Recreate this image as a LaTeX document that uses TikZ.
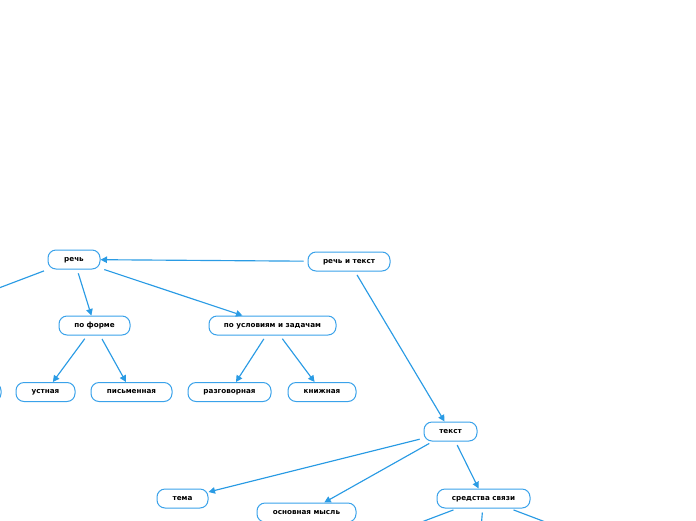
\documentclass[tikz,border=0pt]{standalone}
\usepackage{fontspec}
\setmainfont{DejaVu Sans}
\usetikzlibrary{arrows.meta}
\definecolor{edgeblue}{HTML}{2A9BE4}
\definecolor{boxblue}{HTML}{3AA2EA}
\tikzset{
  topic/.style={draw=boxblue, line width=1pt, rounded corners=8pt, fill=white,
    minimum height=19pt, inner sep=0pt, text height=5.2pt, text depth=1.4pt,
    font=\fontsize{7.2}{8}\selectfont\bfseries, text=black},
  link/.style={draw=edgeblue, line width=1.15pt, shorten <=4pt,
    -{Triangle[length=6.5pt,width=6.5pt]}},
  plain/.style={draw=edgeblue, line width=1.15pt, shorten <=4pt}
}
\begin{document}
\begin{tikzpicture}[x=1pt,y=-1pt]
\useasboundingbox (0,0) rectangle (696,520);
\clip (0,0) rectangle (696,520);
\node[topic, minimum width=52pt] (rech) at (74,259.5) {речь};
\node[topic, minimum width=82pt] (rt) at (349,261.5) {речь и текст};
\node[topic, minimum width=71pt] (forma) at (94.5,325.5) {по форме};
\node[topic, minimum width=127pt] (usl) at (272.5,325.5) {по условиям и задачам};
\node[topic, minimum width=59pt] (ust) at (45.5,392) {устная};
\node[topic, minimum width=81pt] (pis) at (131.5,392) {письменная};
\node[topic, minimum width=83pt] (razg) at (229.5,392) {разговорная};
\node[topic, minimum width=68pt] (kn) at (322,392) {книжная};
\node[topic, minimum width=60pt] (hid) at (-29,392) {};
\node[topic, minimum width=53pt] (tekst) at (450.5,431.5) {текст};
\node[topic, minimum width=51pt] (tema) at (182.5,498.5) {тема};
\node[topic, minimum width=99pt] (mysl) at (306.5,512.5) {основная мысль};
\node[topic, minimum width=93pt] (sredstva) at (483.5,498.5) {средства связи};
\coordinate (offL) at (-100,325.5);
\coordinate (s1) at (309.5,564.5);
\coordinate (s2) at (478,565);
\coordinate (s3) at (657.5,564.5);

\draw[link] (rt) -- (rech);
\draw[link] (rt) -- (tekst);
\draw[plain] (rech) -- (offL);
\draw[link] (rech) -- (forma);
\draw[link] (rech) -- (usl);
\draw[link] (forma) -- (ust);
\draw[link] (forma) -- (pis);
\draw[link] (usl) -- (razg);
\draw[link] (usl) -- (kn);
\draw[link] (tekst) -- (tema);
\draw[link] (tekst) -- (mysl);
\draw[link] (tekst) -- (sredstva);
\draw[plain] (sredstva) -- (s1);
\draw[plain] (sredstva) -- (s2);
\draw[plain] (sredstva) -- (s3);
\end{tikzpicture}
\end{document}
